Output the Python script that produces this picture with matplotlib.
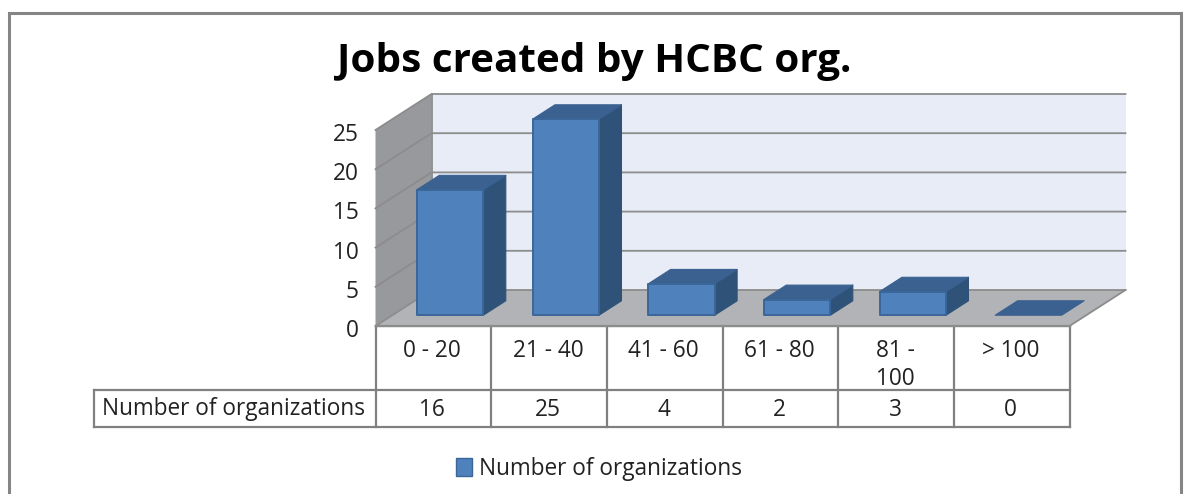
import matplotlib
matplotlib.use("Agg")
import matplotlib.pyplot as plt
from matplotlib.patches import Patch, Polygon
from matplotlib.transforms import ScaledTranslation

plt.rcParams["font.family"] = ["Open Sans", "DejaVu Sans"]

# Chart data
title = "Jobs created by HCBC org."
series_name = "Number of organizations"
categories = ["0 - 20", "21 - 40", "41 - 60", "61 - 80", "81 -\n100", "> 100"]
values = [16, 25, 4, 2, 3, 0]
y_ticks = [0, 5, 10, 15, 20, 25]

W, H = 1184, 494
fig = plt.figure(figsize=(W / 100, H / 100), dpi=100, facecolor="white")

# Overlay in pixel units for the outer frame and the data table
page = fig.add_axes([0, 0, 1, 1])
page.set_xlim(0, W)
page.set_ylim(H, 0)
page.axis("off")

# Front plane of the plot box: categories on x, values on y
x0, x1, y0, y1 = 375.5, 1069.5, 326, 130
ax = fig.add_axes([x0 / W, 1 - y0 / H, (x1 - x0) / W, (y0 - y1) / H])
ax.set_xlim(0, len(categories))
ax.set_ylim(0, 25)
ax.patch.set_visible(False)
for s in ax.spines.values():
    s.set_visible(False)
ax.set_xticks([])
ax.set_yticks(y_ticks)
ax.tick_params(axis="y", length=0, pad=12, labelsize=16.3, labelcolor="#222222")
tick_shift = ScaledTranslation(0, -2 / 100, fig.dpi_scale_trans)
for lab in ax.get_yticklabels():
    lab.set_transform(lab.get_transform() + tick_shift)

# Oblique projection: depth runs from 0 at the front to 1 at the back wall
px_per_cat = (x1 - x0) / len(categories)
px_per_val = (y0 - y1) / 25
dx_depth = 56 / px_per_cat
dy_depth = 36 / px_per_val


def proj(x, v, z):
    return (x + z * dx_depth, v + z * dy_depth)


def face(points, color, edge=None, lw=0.0, zorder=1):
    ax.add_patch(Polygon([proj(*p) for p in points], closed=True, facecolor=color,
                         edgecolor=edge or color, linewidth=lw, clip_on=False,
                         zorder=zorder, joinstyle="round"))


n = len(categories)
grid = "#8c8c8c"

# Walls and floor
face([(0, 0, 1), (n, 0, 1), (n, 25, 1), (0, 25, 1)], "#E8ECF6")
face([(0, 0, 0), (0, 25, 0), (0, 25, 1), (0, 0, 1)], "#97999C")
face([(0, 0, 0), (n, 0, 0), (n, 0, 1), (0, 0, 1)], "#B1B3B6", zorder=1.5)

for t in y_ticks[1:]:
    a, b, c = proj(0, t, 0), proj(0, t, 1), proj(n, t, 1)
    ax.plot([a[0], b[0], c[0]], [a[1], b[1], c[1]], color=grid, lw=1.3,
            clip_on=False, zorder=1.2)
a, b, c = proj(0, 0, 0), proj(0, 0, 1), proj(n, 0, 1)
ax.plot([a[0], b[0], c[0]], [a[1], b[1], c[1]], color=grid, lw=1.3,
        clip_on=False, zorder=1.6)
a, b = proj(n, 0, 0), proj(n, 0, 1)
ax.plot([a[0], b[0]], [a[1], b[1]], color=grid, lw=1.3, clip_on=False, zorder=1.6)
a, b = proj(0, 0, 0), proj(n, 0, 0)
ax.plot([a[0], b[0]], [a[1], b[1]], color=grid, lw=1.6, clip_on=False, zorder=1.6)
a, b = proj(0, 0, 1), proj(0, 25, 1)
ax.plot([a[0], b[0]], [a[1], b[1]], color=grid, lw=1.3, clip_on=False, zorder=1.2)

# Bars: front, side and top faces
bar_w = 0.575
z_front, z_back = 0.30, 0.70
front_c, side_c, top_c, edge_c = "#4F81BD", "#2F5279", "#3A6190", "#3A6698"
for i, v in enumerate(values):
    l, r = i + 0.5 - bar_w / 2, i + 0.5 + bar_w / 2
    zo = 3 + i
    if v > 0:
        face([(r, 0, z_front), (r, 0, z_back), (r, v, z_back), (r, v, z_front)],
             side_c, side_c, 0.8, zo)
        face([(l, v, z_front), (r, v, z_front), (r, v, z_back), (l, v, z_back)],
             top_c, top_c, 0.8, zo)
        face([(l, 0, z_front), (r, 0, z_front), (r, v, z_front), (l, v, z_front)],
             front_c, edge_c, 1.4, zo + 0.1)
    else:
        face([(l, 0, z_front), (r, 0, z_front), (r, 0, z_back), (l, 0, z_back)],
             top_c, top_c, 0.8, zo)

# Data table under the plot box
line = "#808080"
t_left, row0, row1, row2 = 93.5, 326, 390, 427
col_x = [x0 + px_per_cat * i for i in range(n + 1)]
page.plot([col_x[0], col_x[-1]], [row0, row0], color=line, lw=1.6)
page.plot([t_left, col_x[-1]], [row1, row1], color=line, lw=1.6)
page.plot([t_left, col_x[-1]], [row2, row2], color=line, lw=1.6)
page.plot([t_left, t_left], [row1, row2], color=line, lw=1.6)
for x in col_x:
    page.plot([x, x], [row0, row2], color=line, lw=1.6)

txt = dict(ha="center", color="#222222", fontsize=16.3)
for i, (c, v) in enumerate(zip(categories, values)):
    cx = (col_x[i] + col_x[i + 1]) / 2 - 1
    page.text(cx, 339, c, va="top", linespacing=1.22, **txt)
    page.text(cx, 409.5, str(v), va="center", **txt)
page.text(234, 408.5, series_name, va="center", **txt)

# Title
page.text(594, 61.5, title, ha="center", va="center", fontsize=29.1,
          fontweight="bold", color="black")

# Outer frame, running off the bottom edge
page.plot([8.5, 8.5, 1181, 1181], [H + 2, 13.5, 13.5, H + 2], color="#858585", lw=2.2,
          solid_joinstyle="miter", clip_on=True)

# Legend
fig.legend(handles=[Patch(facecolor=front_c, edgecolor=edge_c, label=series_name)],
           loc="center", bbox_to_anchor=(599 / W, 1 - 469 / H), frameon=False,
           fontsize=16.3, handlelength=0.72, handleheight=0.85, handletextpad=0.3,
           labelcolor="#222222")

fig.savefig("out.png", dpi=100)
